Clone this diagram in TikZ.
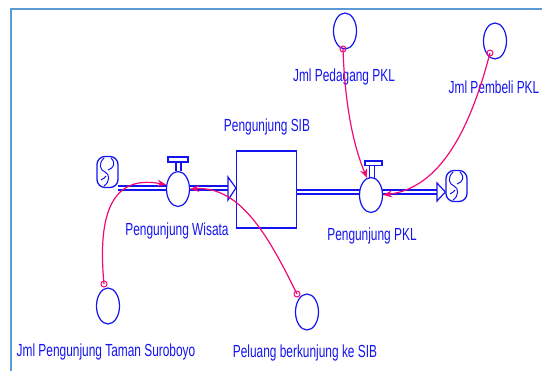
\documentclass[tikz,border=0pt]{standalone}
\usepackage{fontspec}
\newfontfamily\lblfont[FakeStretch=0.68]{Liberation Sans}
\usetikzlibrary{arrows.meta,shapes.geometric}
\definecolor{vblue}{RGB}{20,20,240}
\definecolor{lnk}{RGB}{240,10,120}
\definecolor{framec}{RGB}{91,155,213}
\tikzset{
  lbl/.style={text=vblue, font=\lblfont\fontsize{17.5}{20}\selectfont, inner sep=0pt},
  auxv/.style={ellipse, draw=vblue, line width=1.2pt, minimum width=23pt, minimum height=36pt, inner sep=0pt},
  valvec/.style={ellipse, draw=vblue, line width=1.2pt, fill=white, minimum width=23pt, minimum height=35pt, inner sep=0pt},
  stockbox/.style={rectangle, draw=vblue, line width=1.2pt, fill=white, minimum width=60pt, minimum height=77pt, inner sep=0pt},
  cloudn/.style={rectangle, rounded corners=8pt, draw=vblue, line width=1.3pt, fill=white, minimum width=21pt, minimum height=31pt, inner sep=0pt},
  pipe/.style={draw=vblue, line width=1.7pt, double=white, double distance=2.8pt},
  headtri/.style={draw=vblue, line width=1.2pt, fill=white, line join=miter},
  link/.style={draw=lnk, line width=1.2pt, -{Stealth[length=9pt,width=7pt]}},
  origin/.style={draw=lnk, line width=1pt},
  swirl/.style={draw=vblue, line width=1pt},
}
\begin{document}
\begin{tikzpicture}[x=1pt,y=-1pt]
\useasboundingbox (0,0) rectangle (542,371);
\draw[framec, line width=2pt] (11,371) -- (11,9) -- (542,9);

% stock and flows
\node[stockbox] (stock) at (266.5,189.5) {};
\node[lbl] (stocklbl) at (267,127) {Pengunjung SIB};

\node[cloudn] (cl) at (107.5,172) {};
\node[cloudn] (cr) at (456.5,186) {};

\coordinate (pl1) at (118,188);
\coordinate (pl2) at (230,188);
\coordinate (pr1) at (297,192);
\coordinate (pr2) at (440,192);
\draw[pipe] (pl1) -- (pl2);
\draw[pipe] (pr1) -- (pr2);
\draw[headtri] (228,177) -- (stock.west |- pl2) -- (228,200) -- cycle;
\draw[headtri] (437,183) -- (cr.west |- pr2) -- (437,201) -- cycle;

% cloud swirls
\draw[swirl] (104,158) .. controls (98,164) and (100,170) .. (105,172) .. controls (110,174) and (110,182) .. (104,186);
\draw[swirl] (111,158) .. controls (116,163) and (114,168) .. (108,170);
\draw[swirl] (101,180) .. controls (103,178) and (106,178) .. (106,176);
\draw[swirl] (453,172) .. controls (447,178) and (449,184) .. (454,186) .. controls (459,188) and (459,196) .. (453,200);
\draw[swirl] (460,172) .. controls (465,177) and (463,182) .. (457,184);
\draw[swirl] (450,194) .. controls (452,192) and (455,192) .. (455,190);

% valves
\node[valvec] (vw) at (178,189) {};
\draw[vblue, line width=1.1pt] (176,171.5) -- (176,162) (181,171.5) -- (181,162);
\draw[vblue, line width=1.1pt, fill=white] (168,157) rectangle (188,162);
\node[lbl] (vwlbl) at (177,231) {Pengunjung Wisata};

\node[valvec] (vp) at (371,195) {};
\draw[vblue, line width=1.1pt] (369.5,178) -- (369.5,165) (374.5,178) -- (374.5,165);
\draw[vblue, line width=1.1pt, fill=white] (365,161) rectangle (382,165.5);
\node[lbl] (vplbl) at (372,236) {Pengunjung PKL};

% auxiliaries
\node[auxv] (jpd) at (345,31) {};
\node[lbl] (jpdlbl) at (344,77) {Jml Pedagang PKL};
\node[auxv] (jpb) at (495,41) {};
\node[lbl] (jpblbl) at (494,87) {Jml Pembeli PKL};
\node[auxv] (jts) at (108,306) {};
\node[lbl] (jtslbl) at (106,352) {Jml Pengunjung Taman Suroboyo};
\node[auxv] (pel) at (307,312) {};
\node[lbl] (pellbl) at (305,353) {Peluang berkunjung ke SIB};

% connector origins
\coordinate (o1) at (104,284);
\coordinate (o2) at (297,294);
\coordinate (o3) at (343,49);
\coordinate (o4) at (490,53);
\foreach \o in {o1,o2,o3,o4} \draw[origin] (\o) circle (3pt);

% connectors
\draw[link] (o1) .. controls (96,200) and (120,176) .. (vw.160);
\draw[link] (o2) .. controls (268,235) and (240,186) .. (vw.east);
\draw[link] (o3) .. controls (345,110) and (355,150) .. (vp.103);
\draw[link] (o4) .. controls (470,130) and (440,188) .. (vp.east);
\end{tikzpicture}
\end{document}
